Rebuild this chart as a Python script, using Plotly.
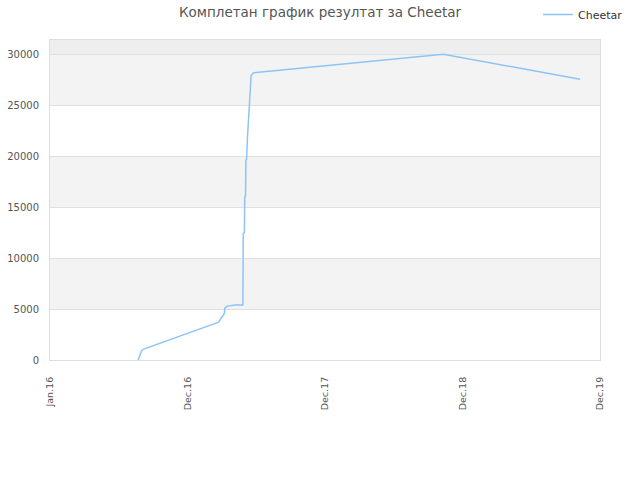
import plotly.graph_objects as go

# results over time
dates = [
    "2016-08-22", "2016-08-27", "2016-08-31", "2016-09-04",
    "2017-03-22", "2017-03-26", "2017-04-08", "2017-04-09",
    "2017-04-15", "2017-05-07", "2017-05-27", "2017-05-28",
    "2017-05-31", "2017-06-01", "2017-06-03", "2017-06-04",
    "2017-06-06", "2017-06-08", "2017-06-10", "2017-06-13",
    "2017-06-16", "2017-06-18", "2017-06-24", "2017-07-01",
    "2018-11-10", "2019-11-08",
]
scores = [
    0, 490, 880, 1050,
    3690, 3850, 4570, 5060,
    5290, 5390, 5400, 12420,
    12500, 16000, 16100, 19600,
    19700, 21730, 23040, 25000,
    26800, 27940, 28170, 28200,
    30000, 27550,
]

tick_vals = ["2016-01-01", "2016-12-31 06:00", "2017-12-31 12:00", "2018-12-31 18:00", "2019-12-31"]
tick_text = ["Jan.16", "Dec.16", "Dec.17", "Dec.18", "Dec.19"]
y_ticks = [0, 5000, 10000, 15000, 20000, 25000, 30000]
y_top = 31400

fig = go.Figure()
fig.add_trace(go.Scatter(
    x=dates, y=scores, mode="lines", name="Cheetar",
    line=dict(color="#8ec4f5", width=1.5),
))

# alternating background bands
bands = [(5000, 10000, "#f3f3f3"), (15000, 20000, "#f3f3f3"),
         (25000, 30000, "#f3f3f3"), (30000, y_top, "#eeeeee")]
for lo, hi, col in bands:
    fig.add_shape(type="rect", xref="paper", yref="y", x0=0, x1=1, y0=lo, y1=hi,
                  fillcolor=col, line_width=0, layer="below")

fig.update_layout(
    width=640, height=480,
    margin=dict(l=50, r=40, t=40, b=120),
    paper_bgcolor="white", plot_bgcolor="white",
    font=dict(family="DejaVu Sans", size=10, color="#555555"),
    title=dict(text="Комплетан график резултат за Cheetar",
               x=0.5, xanchor="center",
               y=1 - 12 / 480, yanchor="middle", font=dict(size=13.5, color="#555555")),
    showlegend=True,
    legend=dict(x=1.051, xanchor="right", y=1.0, yref="container", yanchor="top",
                font=dict(size=11, color="#333333"), bgcolor="rgba(0,0,0,0)"),
    xaxis=dict(type="date", range=["2016-01-01", "2019-12-31"],
               tickvals=tick_vals, ticktext=tick_text, tickangle=-90,
               tickfont=dict(size=9.5), ticklabelstandoff=12,
               showgrid=False, zeroline=False, showline=True, linecolor="#dddddd",
               mirror=True, ticks="", automargin=False),
    yaxis=dict(range=[0, y_top], tickvals=y_ticks, tickformat="d",
               ticklabelstandoff=8,
               showgrid=True, gridcolor="#e0e0e0",
               zeroline=False, showline=True, linecolor="#dddddd", mirror=True,
               ticks="", automargin=False),
)

# drop the page's default body margin so the figure sits at the window corner
fig.write_html("out.html", config={"displayModeBar": False},
               post_script="document.body.style.margin = '0';")
